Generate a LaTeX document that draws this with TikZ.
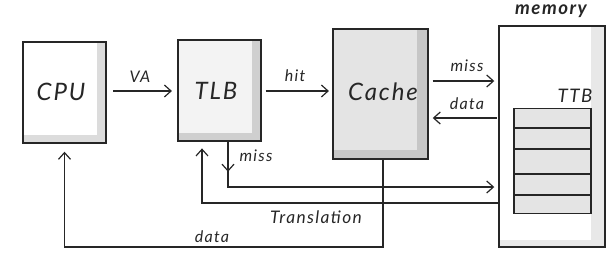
\documentclass[tikz,border=0pt]{standalone}
\usepackage{fontspec}
\setmainfont{Lato}
\usetikzlibrary{calc,arrows.meta}
\definecolor{stripA}{HTML}{DCDCDC}
\definecolor{stripB}{HTML}{CFCFCF}
\definecolor{stripC}{HTML}{C6C6C6}
\definecolor{stripD}{HTML}{E8E8E8}
\definecolor{fillB}{HTML}{F3F3F3}
\definecolor{fillC}{HTML}{E4E4E4}
\definecolor{ink}{HTML}{262626}
\newfontfamily\handfont[LetterSpace=8]{Lato}
\begin{document}
\begin{tikzpicture}[x=0.75pt,y=-0.75pt,
  ink/.style={draw=ink,line width=0.9pt},
  unit/.style={ink,line width=1.1pt,inner sep=0pt},
  unittxt/.style={font=\handfont\fontsize{18}{21}\selectfont\itshape,text=ink},
  strips/.style n args={3}{path picture={
     \fill[#1] ($(path picture bounding box.north east)+(-#2,0)$) rectangle (path picture bounding box.south east);
     \fill[#1] ($(path picture bounding box.south west)+(0,-#3)$) rectangle (path picture bounding box.south east);}},
  arr/.style={ink,-{Straight Barb[length=5pt,width=9pt,line width=0.9pt]}},
  lbl/.style={font=\handfont\fontsize{12}{14}\selectfont\itshape,text=ink,inner sep=1pt}]
\useasboundingbox (0,0) rectangle (616,268);
% units
\node[unit,fill=white,strips={stripA}{9}{8},minimum width=62.25pt,minimum height=75.75pt] (cpu) at (64.5,92.5) {};
\node[unittxt] (cputxt) at (61,92) {CPU};
\node[unit,fill=fillB,strips={stripB}{9}{8},minimum width=62.25pt,minimum height=75.75pt] (tlb) at (219.5,90.5) {};
\node[unittxt] (tlbtxt) at (216,91) {TLB};
\node[unit,fill=fillC,strips={stripC}{11}{9},minimum width=71.25pt,minimum height=97.5pt] (cache) at (380.5,94) {};
\node[unittxt] (cachetxt) at (383,92) {Cache};
\node[unit,fill=white,strips={stripD}{14}{7},minimum width=79.5pt,minimum height=165.75pt] (mem) at (552,136.5) {};
\node[font=\handfont\fontsize{14}{16}\selectfont\itshape\bfseries,text=ink] (memtxt) at (551,11) {memory};
% TTB table
\node[ink,line width=1pt,fill=fillC,inner sep=0pt,minimum width=57.75pt,minimum height=78.75pt] (ttb) at (552.5,161) {};
\foreach \yy in {128,149,174,195}{\draw[ink,line width=1pt] (ttb.west |- 0,\yy) -- (ttb.east |- 0,\yy);}
\node[lbl,font=\handfont\fontsize{14}{16}\selectfont\itshape] (ttbtxt) at (575,96) {TTB};
% connectors
\draw[arr,shorten <=5pt,shorten >=4pt] (cpu.east |- 0,91) coordinate (va1) -- (tlb.west |- 0,91) coordinate (va2);
\node[lbl] (valbl) at (140,77) {VA};
\draw[arr,shorten <=3pt,shorten >=2.5pt] (tlb.east |- 0,91) coordinate (h1) -- (cache.west |- 0,91) coordinate (h2);
\node[lbl] (hitlbl) at (295,76) {hit};
\draw[arr,shorten <=3pt,shorten >=3pt] (cache.east |- 0,81) coordinate (m1) -- (mem.west |- 0,81) coordinate (m2);
\node[lbl] (misslbl) at (467,66) {miss};
\draw[arr,shorten <=1pt,shorten >=3pt] (mem.west |- 0,118) coordinate (d1) -- (cache.east |- 0,118) coordinate (d2);
\node[lbl] (datalbl) at (467,104) {data};
% TLB miss
\coordinate (tm) at ($(tlb.south)+(8.5,0)$);
\draw[arr] (tm) -- ($(tm)+(0,30)$);
\draw[arr,shorten >=3pt] (tm) -- (tm |- 0,187) -- (mem.west |- 0,187) coordinate (tm2);
\node[lbl] (miss2lbl) at (256,156) {miss};
% Translation
\coordinate (tr) at ($(tlb.south)+(-17.5,0)$);
\draw[arr,shorten >=5pt] (mem.west |- 0,203) coordinate (tr1) -- (tr |- 0,203) -- (tr);
\node[lbl,font=\handfont\fontsize{13}{15}\selectfont\itshape] (trlbl) at (316,217) {Translation};
% data to CPU
\coordinate (cd) at ($(cache.south)+(2.5,0)$);
\draw[arr,shorten >=6pt] (cd) -- (cd |- 0,247) -- (cpu.south |- 0,247) -- (cpu.south);
\node[lbl] (data2lbl) at (212,237) {data};
\end{tikzpicture}
\end{document}
